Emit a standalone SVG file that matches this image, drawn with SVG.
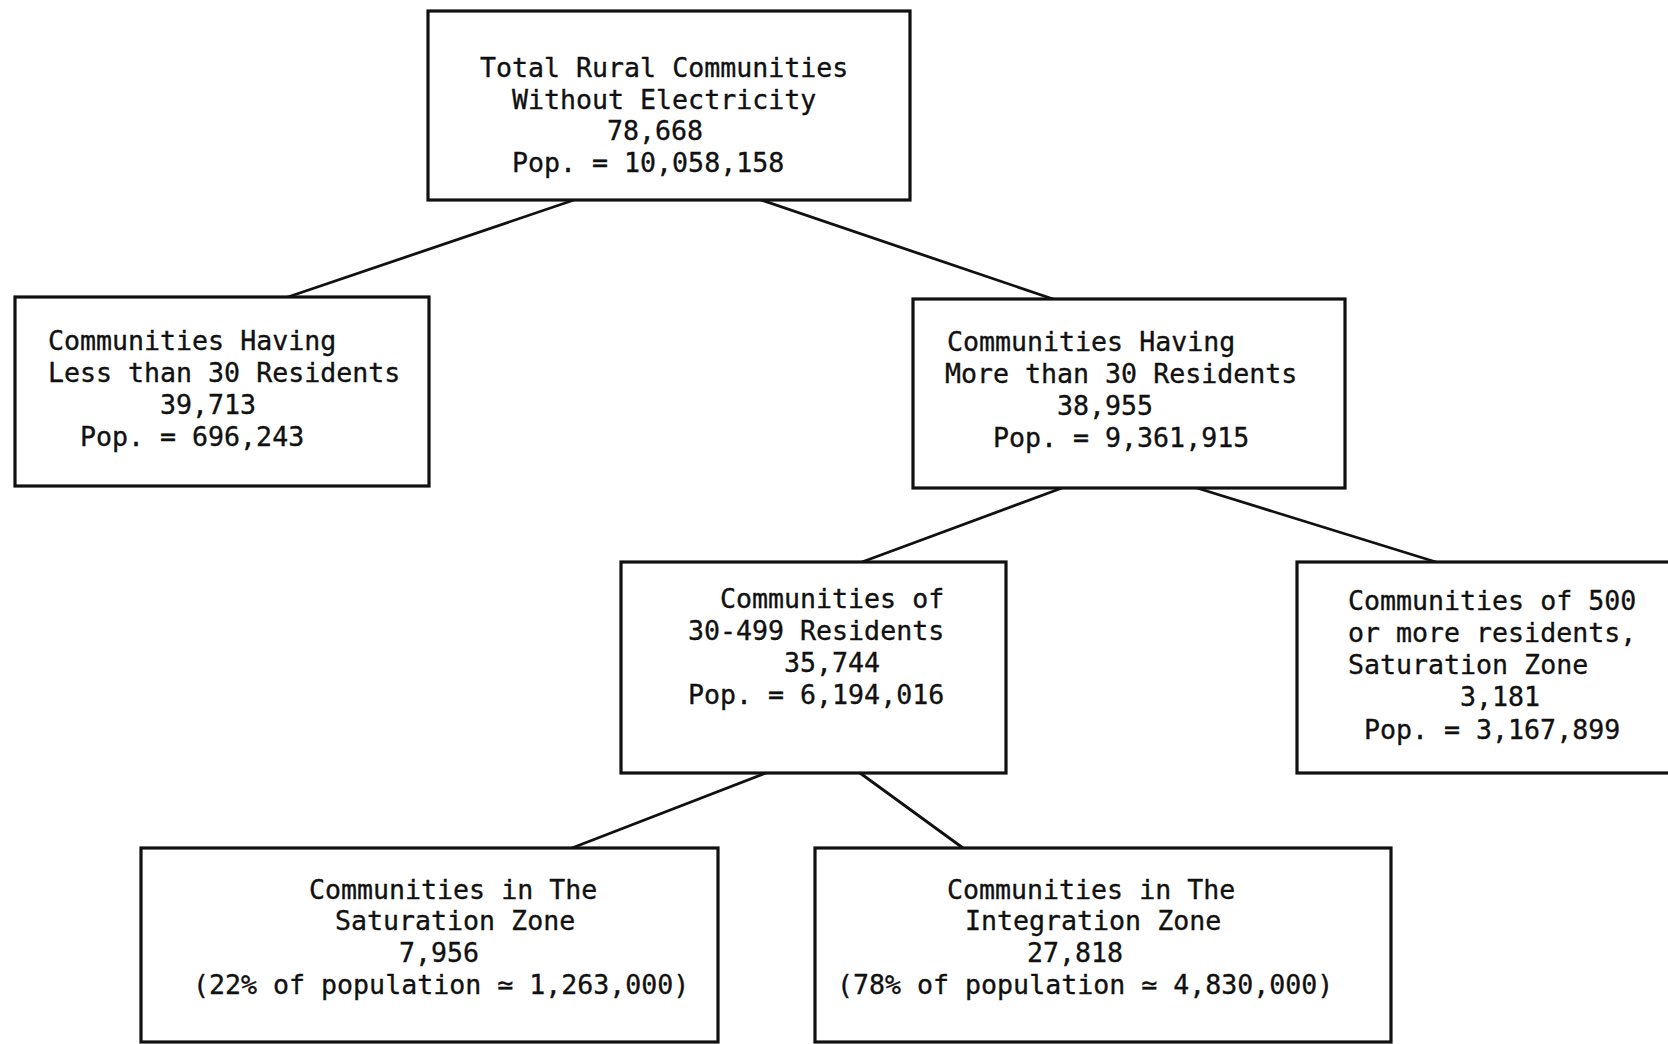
<svg xmlns="http://www.w3.org/2000/svg" width="1668" height="1044" viewBox="0 0 1668 1044">
<style>
.box{fill:#fff;stroke:#111;stroke-width:3.2}
.t{font-family:"DejaVu Sans Mono","Liberation Mono",monospace;font-size:26.6px;fill:#111;stroke:#111;stroke-width:0.35;white-space:pre}
.c{stroke:#111;stroke-width:2.8;fill:none;stroke-linecap:round}
</style>
<rect width="1668" height="1044" fill="#fff"/>
<g id="connectors">
<line class="c" x1="574" y1="200" x2="285" y2="298"/>
<line class="c" x1="761" y1="200" x2="1056" y2="300"/>
<line class="c" x1="1062" y1="488" x2="862" y2="562"/>
<line class="c" x1="1197" y1="488" x2="1436" y2="562"/>
<line class="c" x1="766" y1="773" x2="572" y2="848"/>
<line class="c" x1="860" y1="773" x2="963" y2="848"/>
</g>
<g id="n-total">
<rect class="box" x="428" y="11" width="482" height="189"/>
<text class="t" x="480" y="77">Total Rural Communities</text>
<text class="t" x="512" y="108.5">Without Electricity</text>
<text class="t" x="607" y="140">78,668</text>
<text class="t" x="512" y="171.5">Pop. = 10,058,158</text>
</g>
<g id="n-less30">
<rect class="box" x="15" y="297" width="414" height="189"/>
<text class="t" x="48" y="350">Communities Having</text>
<text class="t" x="48" y="382">Less than 30 Residents</text>
<text class="t" x="160" y="414">39,713</text>
<text class="t" x="80" y="446">Pop. = 696,243</text>
</g>
<g id="n-more30">
<rect class="box" x="913" y="299" width="432" height="189"/>
<text class="t" x="947" y="351">Communities Having</text>
<text class="t" x="945" y="383">More than 30 Residents</text>
<text class="t" x="1057" y="415">38,955</text>
<text class="t" x="993" y="447">Pop. = 9,361,915</text>
</g>
<g id="n-30-499">
<rect class="box" x="621" y="562" width="385" height="211"/>
<text class="t" x="720" y="608">Communities of</text>
<text class="t" x="688" y="640">30-499 Residents</text>
<text class="t" x="784" y="672">35,744</text>
<text class="t" x="688" y="704">Pop. = 6,194,016</text>
</g>
<g id="n-500plus">
<rect class="box" x="1297" y="562" width="400" height="211"/>
<text class="t" x="1348" y="610">Communities of 500</text>
<text class="t" x="1348" y="642">or more residents,</text>
<text class="t" x="1348" y="674">Saturation Zone</text>
<text class="t" x="1460" y="706">3,181</text>
<text class="t" x="1364" y="739">Pop. = 3,167,899</text>
</g>
<g id="n-saturation">
<rect class="box" x="141" y="848" width="577" height="194"/>
<text class="t" x="309" y="899">Communities in The</text>
<text class="t" x="335" y="930">Saturation Zone</text>
<text class="t" x="399" y="962">7,956</text>
<text class="t" x="193" y="994">(22% of population ≃ 1,263,000)</text>
</g>
<g id="n-integration">
<rect class="box" x="815" y="848" width="576" height="194"/>
<text class="t" x="947" y="899">Communities in The</text>
<text class="t" x="965" y="930">Integration Zone</text>
<text class="t" x="1027" y="962">27,818</text>
<text class="t" x="837" y="994">(78% of population ≃ 4,830,000)</text>
</g>
</svg>
